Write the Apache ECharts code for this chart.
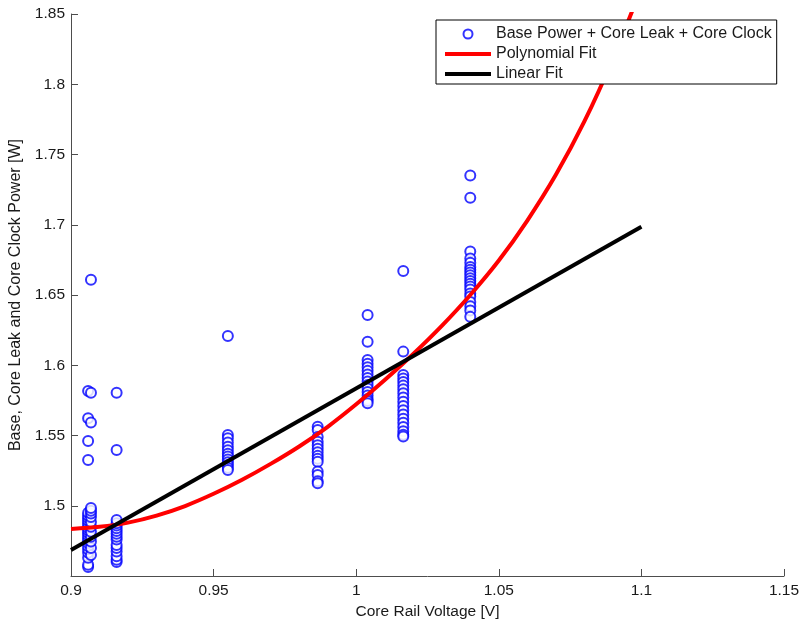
<!DOCTYPE html>
<html>
<head>
<meta charset="utf-8">
<script src="https://cdn.jsdelivr.net/npm/echarts@6/dist/echarts.min.js"></script>
<style>
  html, body { margin: 0; padding: 0; background: #ffffff; }
  #chart { width: 802px; height: 622px; }
</style>
</head>
<body>
<div id="chart"></div>
<script>
// Measured power at each core rail voltage step [W]
const p0906 = [1.5817, 1.5623, 1.5461, 1.5326, 1.4564, 1.4580, 1.4630, 1.4665, 1.4690, 1.4712, 1.4735, 1.4752, 1.4770, 1.4790, 1.4808, 1.4825, 1.4842, 1.4860, 1.4878, 1.4895, 1.4912, 1.4930, 1.4950];
const p0907 = [1.6608, 1.5805, 1.5592, 1.4650, 1.4700, 1.4745, 1.4780, 1.4815, 1.4850, 1.4885, 1.4920, 1.4945, 1.4965, 1.4984];
const p0916 = [1.5805, 1.5397, 1.4599, 1.4615, 1.4640, 1.4675, 1.4700, 1.4720, 1.4760, 1.4780, 1.4800, 1.4820, 1.4840, 1.4860, 1.4875, 1.4899];
const p0955 = [1.6209, 1.5504, 1.5480, 1.5450, 1.5420, 1.5395, 1.5370, 1.5350, 1.5330, 1.5310, 1.5290, 1.5270, 1.5255];
const p0986 = [1.5563, 1.5539, 1.5490, 1.5456, 1.5430, 1.5405, 1.5380, 1.5355, 1.5335, 1.5314, 1.5243, 1.5219, 1.5175, 1.5160];
const p1004 = [1.6358, 1.6168, 1.6038, 1.6010, 1.5985, 1.5960, 1.5935, 1.5910, 1.5885, 1.5860, 1.5835, 1.5810, 1.5785, 1.5760, 1.5745, 1.5730];
const p1017 = [1.6670, 1.6097, 1.5931, 1.5905, 1.5880, 1.5855, 1.5830, 1.5800, 1.5770, 1.5740, 1.5710, 1.5680, 1.5650, 1.5620, 1.5590, 1.5560, 1.5530, 1.5505, 1.5492];
const p1040 = [1.7350, 1.7193, 1.6809, 1.6760, 1.6730, 1.6700, 1.6680, 1.6660, 1.6640, 1.6620, 1.6600, 1.6580, 1.6560, 1.6540, 1.6510, 1.6490, 1.6450, 1.6420, 1.6390, 1.6346];

const voltageSteps = [0.906, 0.907, 0.916, 0.955, 0.9865, 1.004, 1.0165, 1.040];
const powerByStep = [p0906, p0907, p0916, p0955, p0986, p1004, p1017, p1040];

// Fitted curves (the polynomial runs past the top of the plot and is clipped there)
const polyX = [0.90, 0.91, 0.92, 0.93, 0.94, 0.95, 0.96, 0.97, 0.98, 0.99, 1.00, 1.01, 1.02, 1.03, 1.04, 1.05, 1.06, 1.07, 1.08, 1.09, 1.10];
const polyY = [1.4835, 1.4850, 1.4880, 1.4930, 1.4998, 1.5085, 1.5185, 1.5298, 1.5422, 1.5562, 1.5722, 1.5895, 1.6080, 1.6280, 1.6500, 1.6745, 1.7030, 1.7355, 1.7735, 1.8180, 1.8690];
const linearX = [0.900, 1.100];
const linearY = [1.4685, 1.6985];

const seriesNames = ['Base Power + Core Leak + Core Clock', 'Polynomial Fit', 'Linear Fit'];

const measured = [];
voltageSteps.forEach((v, i) => powerByStep[i].forEach(p => measured.push([v, p])));
const zip = (xs, ys) => xs.map((x, i) => [x, ys[i]]);

const FONT = '"Liberation Sans", Arial, Helvetica, sans-serif';
const TEXT = '#1a1a1a';
const AXIS = '#4d4d4d';
const LINE_ICON = 'path://M0,0L46,0L46,4L0,4Z';

const chart = echarts.init(document.getElementById('chart'), null, { renderer: 'canvas' });
chart.setOption({
  backgroundColor: '#ffffff',
  animation: false,
  textStyle: { fontFamily: FONT },
  grid: { left: 71, top: 14, right: 18, bottom: 46, containLabel: false, outerBoundsMode: 'none' },
  legend: {
    orient: 'vertical',
    left: 436,
    top: 20,
    padding: [6, 5, 2, 9],
    itemWidth: 46,
    itemHeight: 9,
    itemGap: 4,
    backgroundColor: '#ffffff',
    borderColor: '#000000',
    borderWidth: 1,
    borderRadius: 0,
    textStyle: { fontFamily: FONT, fontSize: 16, color: TEXT, lineHeight: 14 },
    data: [
      { name: seriesNames[0] },
      { name: seriesNames[1], icon: LINE_ICON },
      { name: seriesNames[2], icon: LINE_ICON }
    ]
  },
  xAxis: {
    type: 'value',
    min: 0.9,
    max: 1.15,
    interval: 0.05,
    name: 'Core Rail Voltage [V]',
    nameLocation: 'middle',
    nameGap: 22,
    nameTextStyle: { fontFamily: FONT, fontSize: 15.5, color: TEXT },
    axisLine: { show: true, onZero: false, lineStyle: { color: AXIS, width: 1 } },
    axisTick: { show: true, inside: true, length: 7, lineStyle: { color: AXIS } },
    axisLabel: { fontFamily: FONT, fontSize: 15.5, color: TEXT, margin: 7 },
    splitLine: { show: false }
  },
  yAxis: {
    type: 'value',
    min: 1.45,
    max: 1.85,
    interval: 0.05,
    name: 'Base, Core Leak and Core Clock Power [W]',
    nameLocation: 'middle',
    nameGap: 38,
    nameTextStyle: { fontFamily: FONT, fontSize: 16, color: TEXT },
    axisLine: { show: true, onZero: false, lineStyle: { color: AXIS, width: 1 } },
    axisTick: { show: true, inside: true, length: 7, lineStyle: { color: AXIS } },
    axisLabel: { fontFamily: FONT, fontSize: 15.5, color: TEXT, margin: 6, showMinLabel: false },
    splitLine: { show: false }
  },
  series: [
    {
      name: seriesNames[0],
      type: 'scatter',
      data: measured,
      symbol: 'emptyCircle',
      symbolSize: 10,
      itemStyle: { color: '#0000ff', borderColor: '#0000ff', borderWidth: 1 },
      z: 2
    },
    {
      name: seriesNames[1],
      type: 'line',
      data: zip(polyX, polyY),
      smooth: 0.3,
      clip: true,
      symbol: 'none',
      lineStyle: { color: '#ff0000', width: 4 },
      itemStyle: { color: '#ff0000' },
      z: 3
    },
    {
      name: seriesNames[2],
      type: 'line',
      data: zip(linearX, linearY),
      symbol: 'none',
      lineStyle: { color: '#000000', width: 4 },
      itemStyle: { color: '#000000' },
      z: 4
    }
  ]
});
</script>
</body>
</html>
